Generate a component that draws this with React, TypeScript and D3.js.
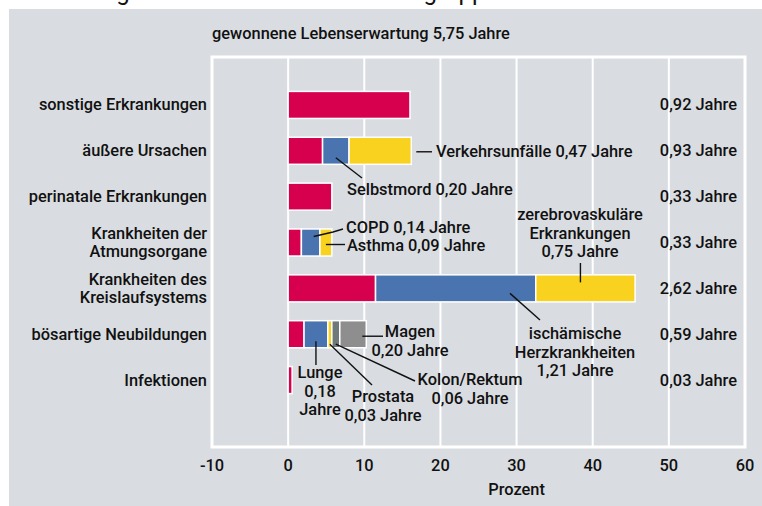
import React from "react";
import * as d3 from "d3";

// ---------- data ----------
const TOTAL_YEARS = 5.75;
const categories = [
  "sonstige Erkrankungen",
  "äußere Ursachen",
  "perinatale Erkrankungen",
  "Krankheiten der Atmungsorgane",
  "Krankheiten des Kreislaufsystems",
  "bösartige Neubildungen",
  "Infektionen",
];
const categoryLines = [
  ["sonstige Erkrankungen"],
  ["äußere Ursachen"],
  ["perinatale Erkrankungen"],
  ["Krankheiten der", "Atmungsorgane"],
  ["Krankheiten des", "Kreislaufsystems"],
  ["bösartige Neubildungen"],
  ["Infektionen"],
];
const totalLabels = ["0,92 Jahre", "0,93 Jahre", "0,33 Jahre", "0,33 Jahre", "2,62 Jahre", "0,59 Jahre", "0,03 Jahre"];
// segment years per category (rest, 1st, 2nd, 3rd, 4th)
const sonstigeSeg = [0.92];
const aeussereSeg = [0.26, 0.2, 0.47];
const perinatalSeg = [0.33];
const atmungSeg = [0.1, 0.14, 0.09];
const kreislaufSeg = [0.66, 1.21, 0.75];
const neubildungSeg = [0.12, 0.18, 0.03, 0.06, 0.2];
const infektionSeg = [0.03];
const segmentsByCategory = [sonstigeSeg, aeussereSeg, perinatalSeg, atmungSeg, kreislaufSeg, neubildungSeg, infektionSeg];
const xTicks = [-10, 0, 10, 20, 30, 40, 50, 60];
const titleText = "gewonnene Lebenserwartung 5,75 Jahre";
const axisTitle = "Prozent";

// ---------- style ----------
const segColors = ["#D7004E", "#4A74B0", "#F8D21E", "#6F7979", "#8E8E8E"];
const BG = "#D9DDE1";
const FONT = "Roboto, 'Open Sans', sans-serif";
const FS = 16.4;

export default function App() {
  const x = d3.scaleLinear().domain([-10, 60]).range([212, 745]);
  const y = d3
    .scaleBand<number>()
    .domain(d3.range(categories.length))
    .range([82, 403])
    .paddingInner(0.41)
    .paddingOuter(0.205);
  const yc = (i: number) => (y(i) as number) + y.bandwidth() / 2;
  const pct = (v: number) => (v / TOTAL_YEARS) * 100;

  const stacks = segmentsByCategory.map((segs) => {
    let acc = 0;
    return segs.map((v, k) => {
      const s = acc;
      acc += pct(v);
      return { x0: s, x1: acc, k };
    });
  });
  const segMid = (r: number, k: number) => x((stacks[r][k].x0 + stacks[r][k].x1) / 2);
  const segEnd = (r: number, k: number) => x(stacks[r][k].x1);

  const plotTop = 57;
  const plotBottom = 447;
  const line = d3.line();

  type Ann = { lines: string[]; tx: number; ty: number; anchor: string; path: [number, number][] };
  const anns: Ann[] = [
    { lines: ["Verkehrsunfälle 0,47 Jahre"], tx: 436, ty: yc(1) + 6, anchor: "start", path: [[segEnd(1, 2) + 5, yc(1) + 1], [432, yc(1) + 1]] },
    { lines: ["Selbstmord 0,20 Jahre"], tx: 347, ty: 195, anchor: "start", path: [[segMid(1, 1), yc(1) + 7], [362, 178]] },
    { lines: ["COPD 0,14 Jahre"], tx: 346, ty: 233, anchor: "start", path: [[segMid(3, 1) + 3, yc(3) - 6], [333, 232], [343, 229]] },
    { lines: ["Asthma 0,09 Jahre"], tx: 347, ty: 251, anchor: "start", path: [[segMid(3, 2), yc(3) + 2], [345, yc(3) + 2]] },
    { lines: ["zerebrovaskuläre", "Erkrankungen", "0,75 Jahre"], tx: 580, ty: 220, anchor: "middle", path: [[segMid(4, 2) - 5, 263], [segMid(4, 2) - 5, yc(4) - 6]] },
    { lines: ["ischämische", "Herzkrankheiten", "1,21 Jahre"], tx: 575, ty: 339, anchor: "middle", path: [[510, yc(4) + 5], [540, 320]] },
    { lines: ["Magen", "0,20 Jahre"], tx: 410, ty: 337, anchor: "middle", path: [[segEnd(5, 4) - 4, yc(5) + 2], [383, yc(5) + 2]] },
    { lines: ["Lunge", "0,18", "Jahre"], tx: 320, ty: 378, anchor: "middle", path: [[segMid(5, 1), yc(5) + 7], [segMid(5, 1), 365]] },
    { lines: ["Prostata", "0,03 Jahre"], tx: 383, ty: 402, anchor: "middle", path: [[segMid(5, 2), yc(5) + 10], [372, 385]] },
    { lines: ["Kolon/Rektum", "0,06 Jahre"], tx: 470, ty: 385, anchor: "middle", path: [[segMid(5, 3), yc(5) + 10], [415, 381]] },
  ];

  return (
    <svg
      width={762}
      height={506}
      style={{ position: "absolute", left: 0, top: 0, fontFamily: FONT }}
    >
      <rect x={0} y={0} width={762} height={506} fill="#fff" />
      {/* heading line above the panel, cut off by the page edge as in the source */}
      <text x={22} y={-0.5} fontSize={24} fill="#111">Abbildung 4: Todesursachen</text>
      <text x={361} y={-0.5} fontSize={24} fill="#111">Altersgruppe</text>
      <rect x={9} y={9} width={753} height={497} fill={BG} />

      <text x={212} y={39} fontSize={FS} fontWeight={500} fill="#111">{titleText}</text>

      {/* frame & grid */}
      <rect x={x(-10)} y={plotTop} width={x(60) - x(-10)} height={plotBottom - plotTop} fill="none" stroke="#fff" strokeWidth={3} />
      {xTicks.slice(1, -1).map((t) => (
        <line key={t} x1={x(t)} x2={x(t)} y1={plotTop} y2={plotBottom} stroke="#fff" strokeWidth={2} />
      ))}

      {/* bars */}
      {stacks.map((segs, i) =>
        segs.map((s) => (
          <rect
            key={i + "-" + s.k}
            x={x(s.x0)}
            y={y(i)}
            width={x(s.x1) - x(s.x0)}
            height={y.bandwidth()}
            fill={segColors[s.k]}
            stroke="#fff"
            strokeWidth={1.5}
          />
        ))
      )}

      {/* category labels */}
      {categoryLines.map((ls, i) =>
        ls.map((l, j) => (
          <text
            key={i + "-" + j}
            x={207}
            y={yc(i) + 5.5 + (j - (ls.length - 1) / 2) * 18.5}
            textAnchor="end"
            fontSize={FS}
            fontWeight={500}
            fill="#111"
          >
            {l}
          </text>
        ))
      )}

      {/* totals */}
      {totalLabels.map((t, i) => (
        <text key={i} x={737} y={yc(i) + 5.5} textAnchor="end" fontSize={FS} fontWeight={500} fill="#111">
          {t}
        </text>
      ))}

      {/* annotations */}
      {anns.map((a, i) => (
        <g key={i}>
          <path d={line(a.path) as string} fill="none" stroke="#111" strokeWidth={1.4} />
          {a.lines.map((l, j) => (
            <text key={j} x={a.tx} y={a.ty + j * 18.5} textAnchor={a.anchor as any} fontSize={FS} fontWeight={500} fill="#111">
              {l}
            </text>
          ))}
        </g>
      ))}

      {/* axis */}
      {xTicks.map((t) => (
        <text key={t} x={x(t)} y={471} textAnchor="middle" fontSize={FS} fontWeight={500} fill="#111">
          {t < 0 ? "-" + Math.abs(t) : t}
        </text>
      ))}
      <text x={x(30)} y={495} textAnchor="middle" fontSize={FS} fontWeight={500} fill="#111">{axisTitle}</text>
    </svg>
  );
}
